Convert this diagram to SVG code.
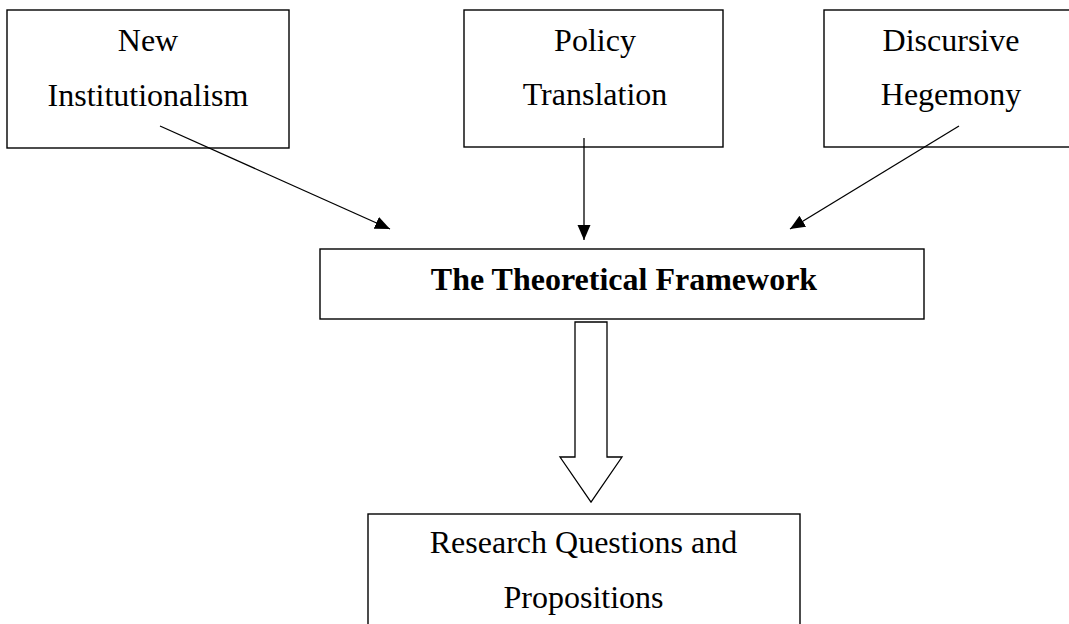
<svg xmlns="http://www.w3.org/2000/svg" width="1069" height="624" viewBox="0 0 1069 624">
<style>
.box{fill:#fff;stroke:#000;stroke-width:1.4}
.t{font-family:"Liberation Serif","Times New Roman",serif;font-size:32px;fill:#000;text-anchor:middle}
.b{font-weight:bold}
.c{stroke:#000;stroke-width:1.3;fill:none}
</style>
<defs>
<marker id="ah" markerUnits="userSpaceOnUse" markerWidth="16" markerHeight="14" refX="15" refY="6.5" orient="auto">
<path d="M0,0 L15,6.5 L0,13 z" fill="#000"/>
</marker>
</defs>
<rect width="1069" height="624" fill="#fff"/>
<g id="new-institutionalism">
<rect class="box" x="7" y="10" width="282" height="138"/>
<text class="t" x="148" y="51">New</text>
<text class="t" x="148" y="106">Institutionalism</text>
</g>
<g id="policy-translation">
<rect class="box" x="464" y="10" width="259" height="137"/>
<text class="t" x="595" y="51">Policy</text>
<text class="t" x="595" y="105">Translation</text>
</g>
<g id="discursive-hegemony">
<rect class="box" x="824" y="10" width="260" height="137"/>
<text class="t" x="951" y="51">Discursive</text>
<text class="t" x="951" y="105">Hegemony</text>
</g>
<g id="theoretical-framework">
<rect class="box" x="320" y="249" width="604" height="70"/>
<text class="t b" x="624" y="290">The Theoretical Framework</text>
</g>
<g id="research-questions">
<rect class="box" x="368" y="514" width="432" height="130"/>
<text class="t" x="583.5" y="553">Research Questions and</text>
<text class="t" x="583.5" y="608">Propositions</text>
</g>
<g id="connectors">
<line class="c" x1="160" y1="126" x2="390" y2="229" marker-end="url(#ah)"/>
<line class="c" x1="584" y1="138" x2="584" y2="240" marker-end="url(#ah)"/>
<line class="c" x1="959" y1="126" x2="790" y2="229" marker-end="url(#ah)"/>
<path class="c" d="M575,322 L607,322 L607,457 L622,457 L591,502 L560,457 L575,457 Z" fill="#fff"/>
</g>
</svg>
